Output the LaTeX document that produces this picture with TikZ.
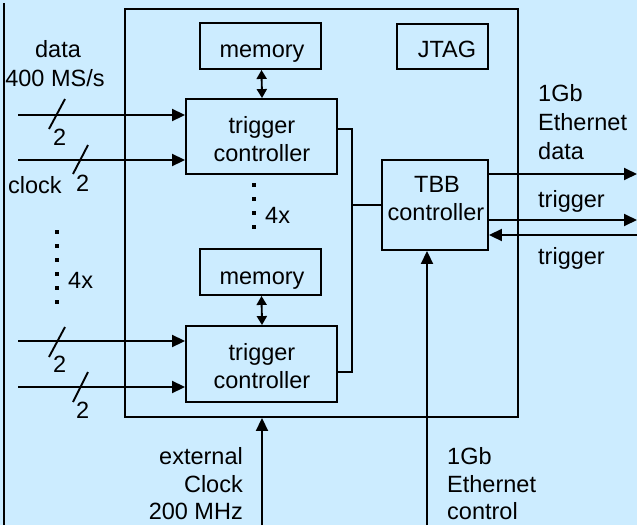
\documentclass[tikz,border=0pt]{standalone}
\usepackage{fontspec}
\setmainfont{Liberation Sans}
\usetikzlibrary{arrows.meta}
\definecolor{bgblue}{RGB}{204,236,255}
\tikzset{
  box/.style={draw=black, line width=1.9pt, fill=bgblue, inner sep=0pt},
  wire/.style={line width=1.9pt},
  arr/.style={wire, -{Triangle[length=13pt,width=12pt]}},
  darr/.style={wire, {Triangle[length=9pt,width=10pt]}-{Triangle[length=9pt,width=10pt]}},
  lbl/.style={inner sep=0pt, anchor=base west},
  ctr/.style={inner sep=0pt, anchor=base},
  rlbl/.style={inner sep=0pt, anchor=base east},
  dotline/.style={line width=4pt, dash pattern=on 4pt off 10pt},
  slash/.style={line width=1.9pt}
}
\begin{document}
\begin{tikzpicture}[x=1pt,y=-1pt,font=\fontsize{23.5}{29}\selectfont]
\useasboundingbox (0,0) rectangle (637,525);
\fill[bgblue] (0,0) rectangle (637,525);
\draw[line width=1.9pt] (4,3) -- (4,525);
% main box
\node[box, minimum width=393pt, minimum height=408pt] (main) at (321.5,213) {};
% inner boxes
\node[box, minimum width=121pt, minimum height=46pt] (mem1) at (260.5,46) {};
\node[ctr] (mem1t) at (262,57) {memory};
\node[box, minimum width=91pt, minimum height=45pt] (jtag) at (442.5,46.5) {};
\node[ctr] (jtagt) at (447,57) {JTAG};
\node[box, minimum width=151pt, minimum height=75pt] (trig1) at (261.5,136.5) {};
\node[ctr] (trig1a) at (262,133) {trigger};
\node[ctr] (trig1b) at (262,161) {controller};
\node[box, minimum width=121pt, minimum height=46pt] (mem2) at (260.5,272) {};
\node[ctr] (mem2t) at (262,284) {memory};
\node[box, minimum width=151pt, minimum height=76pt] (trig2) at (261.5,364) {};
\node[ctr] (trig2a) at (262,360) {trigger};
\node[ctr] (trig2b) at (262,388) {controller};
\node[box, minimum width=106pt, minimum height=90pt] (tbb) at (435,205) {};
\node[ctr] (tbba) at (437,192) {TBB};
\node[ctr] (tbbb) at (436,220) {controller};
% memory links
\draw[darr] ([xshift=1pt]mem1.south) -- ([xshift=0.5pt]trig1.north);
\draw[darr] ([xshift=1pt]mem2.south) -- ([xshift=0.5pt]trig2.north);
% bus to TBB
\coordinate (bj1) at (352,129);
\coordinate (bj2) at (352,372);
\coordinate (bjm) at (352,205);
\draw[wire] (trig1.east |- bj1) -- (bj1) -- (bj2) -- (trig2.east |- bj2);
\draw[wire] (bjm) -- (tbb.west);
% inputs
\coordinate (in1) at (18,115);
\coordinate (in2) at (18,160);
\coordinate (in3) at (18,341);
\coordinate (in4) at (18,387);
\draw[arr] (in1) -- (trig1.west |- in1);
\draw[arr] (in2) -- (trig1.west |- in2);
\draw[arr] (in3) -- (trig2.west |- in3);
\draw[arr] (in4) -- (trig2.west |- in4);
% slash marks
\draw[slash] (49,129) -- (65,99);
\draw[slash] (73,174) -- (88,145);
\draw[slash] (49,357) -- (65,327);
\draw[slash] (73,402) -- (88,372);
\node[lbl] (n1) at (53,145) {2};
\node[lbl] (n2) at (76,191) {2};
\node[lbl] (n3) at (53,372) {2};
\node[lbl] (n4) at (76,418) {2};
% input labels
\node[ctr] (ldata) at (58,57) {data};
\node[ctr] (lrate) at (55,86) {400 MS/s};
\node[lbl] (lclock) at (8,193) {clock};
% dots
\draw[dotline] (254,183) -- (254,232);
\node[lbl] (x4a) at (265,223) {4x};
\draw[dotline] (57,230) -- (57,305);
\node[lbl] (x4b) at (68,288) {4x};
% outputs
\coordinate (o1) at (637,174);
\coordinate (o2) at (637,220);
\coordinate (o3) at (637,235);
\draw[arr] (tbb.east |- o1) -- (o1);
\draw[arr] (tbb.east |- o2) -- (o2);
\draw[arr] (o3) -- (tbb.east |- o3);
\node[lbl] (e1) at (538,101) {1Gb};
\node[lbl] (e2) at (538,130) {Ethernet};
\node[lbl] (e3) at (538,159) {data};
\node[lbl] (t1) at (538,207) {trigger};
\node[lbl] (t2) at (538,264) {trigger};
% bottom
\coordinate (b1) at (262,525);
\coordinate (b2) at (427,525);
\draw[arr] (b1) -- (b1 |- main.south);
\draw[arr] (b2) -- (b2 |- tbb.south);
\node[rlbl] (c1) at (243,464) {external};
\node[rlbl] (c2) at (243,492) {Clock};
\node[rlbl] (c3) at (243,519) {200 MHz};
\node[lbl] (g1) at (447,464) {1Gb};
\node[lbl] (g2) at (447,492) {Ethernet};
\node[lbl] (g3) at (447,519) {control};
\end{tikzpicture}
\end{document}
